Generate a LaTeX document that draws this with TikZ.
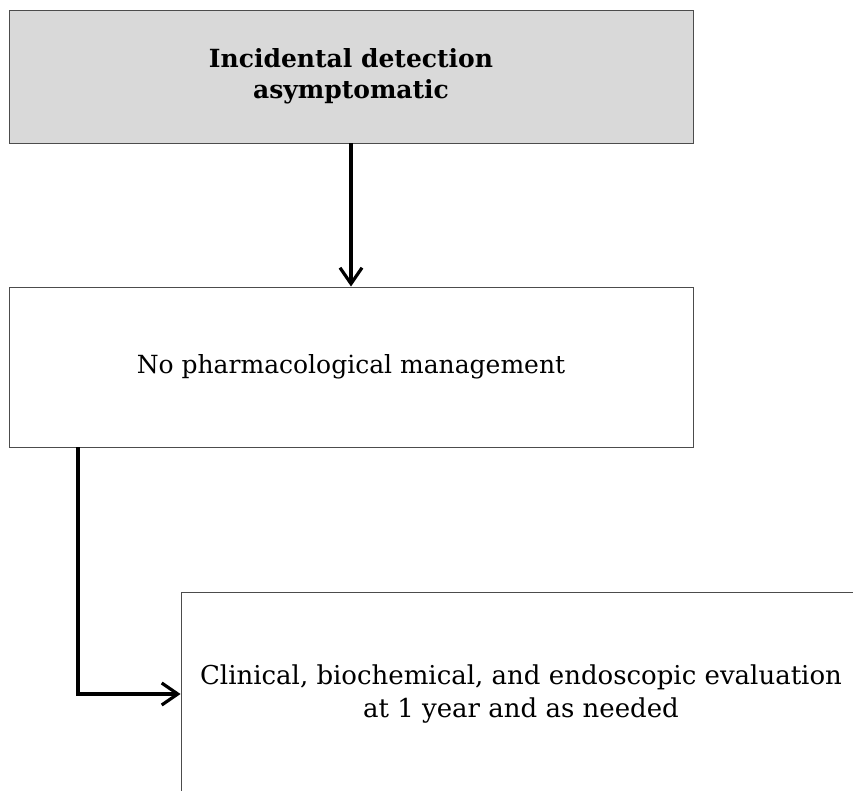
\documentclass[tikz,border=0pt]{standalone}
\usepackage{fontspec}
\setmainfont{DejaVu Serif}
\usetikzlibrary{arrows.meta}

\begin{document}
\begin{tikzpicture}[x=1pt,y=1pt,
  box/.style={draw=black!70,line width=0.9pt,align=center,inner sep=0pt,
    font=\fontsize{25}{33}\selectfont},
  flow/.style={line width=3.2pt,-{Straight Barb[length=16pt,width=22pt,line width=3.2pt]}}]

  \useasboundingbox (0,0) rectangle (853,-791);

  % Specification of nodes (position, etc.)
  \node[box,fill=black!15,minimum width=684,minimum height=133,
    font=\fontsize{25}{31}\selectfont\bfseries] (detect) at (351,-76.5)
    {Incidental detection\\asymptomatic};
  \node[box,minimum width=684,minimum height=160] (nopharm) at (351,-367)
    {No pharmacological management};
  \node[box,minimum width=680,minimum height=204,
    font=\fontsize{26}{33}\selectfont] (evaluate) at (521,-694)
    {Clinical, biochemical, and endoscopic evaluation\\at 1 year and as needed};
  \coordinate (tap) at (78,-447);

  \begin{scope}
    \draw[flow] (detect) to (nopharm);
    \draw[flow] (tap) |- (evaluate.west);
  \end{scope}

\end{tikzpicture}
\end{document}
